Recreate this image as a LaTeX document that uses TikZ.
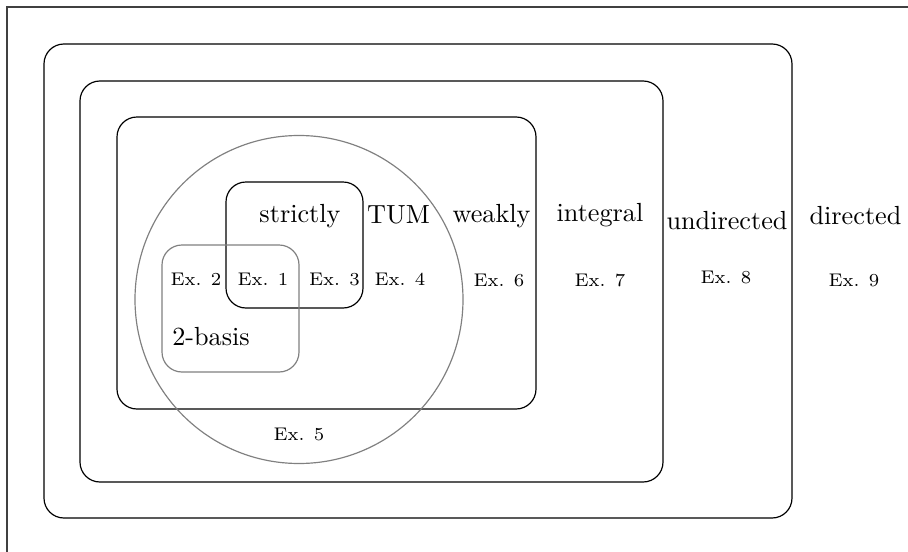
\documentclass[tikz,border=0pt]{standalone}
\tikzset{
  frameline/.style={draw=black!75, line width=0.65pt},
  setbox/.style={draw=black, line width=0.45pt, rounded corners=7.6pt},
  graybox/.style={draw=black!50, line width=0.45pt, rounded corners=7.6pt},
  lbl/.style={font=\normalsize, anchor=base, inner sep=0pt},
  exl/.style={font=\scriptsize, anchor=base, inner sep=0pt}
}
\begin{document}
\begin{tikzpicture}[x=0.3817pt, y=-0.3817pt]
\useasboundingbox (0,0) rectangle (908,552);
% outer frame (cut at right and bottom)
\draw[frameline] (7,552) -- (7,7) -- (908,7);
% nested sets
\draw[setbox] (44,44) rectangle (792,518);
\draw[setbox] (80,81) rectangle (663,482);
\draw[setbox] (117,117) rectangle (536,409);
\draw[draw=black!50, line width=0.45pt] (299,299.5) circle [radius=62.6pt];
\draw[setbox] (226,182) rectangle (363,308);
\draw[graybox] (162,245) rectangle (299,372);
% set labels
\node[lbl] (strictly) at (300,222) {strictly};
\node[lbl] (tum) at (398.5,223) {TUM};
\node[lbl] (weakly) at (491.5,222) {weakly};
\node[lbl] (integral) at (600,221) {integral};
\node[lbl] (undirected) at (727,229) {undirected};
\node[lbl] (directed) at (855.5,224) {directed};
\node[lbl] (twobasis) at (211,345) {2-basis};
% examples
\node[exl] (ex2) at (196,285) {Ex. 2};
\node[exl] (ex1) at (263,285) {Ex. 1};
\node[exl] (ex3) at (334.5,285) {Ex. 3};
\node[exl] (ex4) at (400,285) {Ex. 4};
\node[exl] (ex6) at (499,286) {Ex. 6};
\node[exl] (ex7) at (600,286) {Ex. 7};
\node[exl] (ex8) at (726,283) {Ex. 8};
\node[exl] (ex9) at (854,286) {Ex. 9};
\node[exl] (ex5) at (299,440) {Ex. 5};
\end{tikzpicture}
\end{document}
